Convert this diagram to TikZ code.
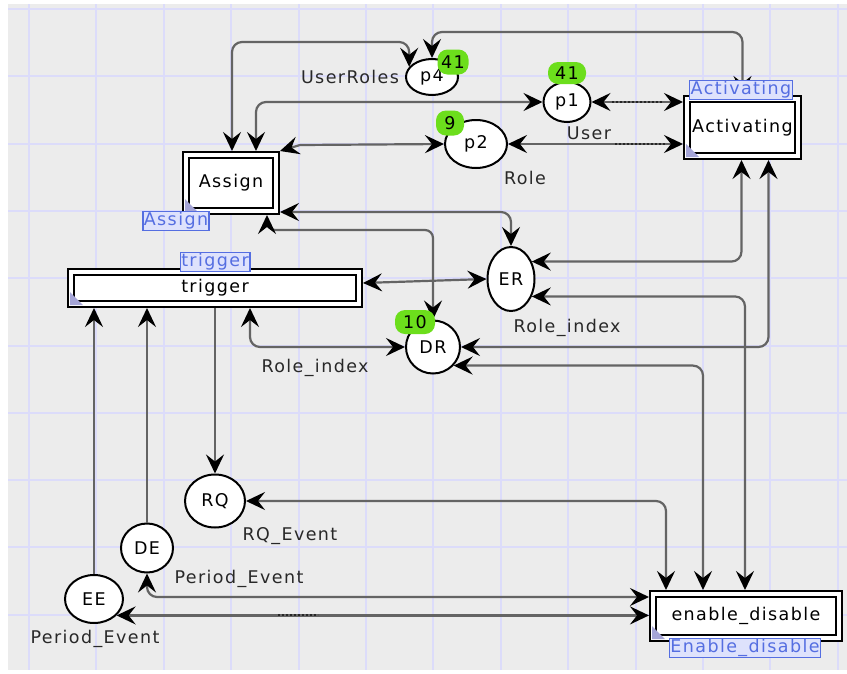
\documentclass[tikz,border=0pt]{standalone}
\usepackage{fontspec}
\setmainfont{DejaVu Sans}[LetterSpace=8]
\usetikzlibrary{shapes.geometric,arrows.meta,calc}

\definecolor{canvas}{RGB}{236,236,236}
\definecolor{gridline}{RGB}{220,220,250}
\definecolor{arcgray}{RGB}{100,100,100}
\definecolor{tokengreen}{RGB}{108,222,28}
\definecolor{tagblue}{RGB}{85,110,225}
\definecolor{tagfill}{RGB}{222,226,252}
\definecolor{cornermark}{RGB}{165,165,215}
\definecolor{inscrtext}{RGB}{40,40,40}

\begin{document}
\begin{tikzpicture}[x=1pt,y=-1pt,
  font=\fontsize{17.5}{19}\selectfont,
  >={Stealth[length=19pt,width=18pt,inset=7pt,color=black]},
  place/.style={ellipse, draw=black, line width=2pt, fill=white, inner sep=0pt},
  trans/.style={rectangle, draw=black, line width=2pt, double=white,
    double distance=4pt, fill=white, inner sep=0pt, outer sep=4pt},
  tag/.style={rectangle, draw=tagblue, line width=1.5pt, fill=tagfill,
    text=tagblue, inner sep=1pt, minimum height=19pt},
  token/.style={rectangle, rounded corners=10pt, fill=tokengreen,
    text=black, inner sep=2pt},
  inscr/.style={text=inscrtext, inner sep=0pt},
  arc/.style={draw=arcgray, line width=2.2pt, rounded corners=10pt},
  dotmark/.style={draw=black!85, line width=1.6pt, dash pattern=on 2pt off 2pt},
  gridstroke/.style={draw=gridline, line width=2pt}]

% page and canvas
\useasboundingbox (0,0) rectangle (847,673);
\fill[white] (0,0) rectangle (847,673);
\fill[canvas] (8,4) rectangle (847,670);
\foreach \i in {0,...,12}
  \draw[gridstroke] ({29+67.4*\i},4) -- ({29+67.4*\i},670);
\foreach \j in {0,...,9}
  \draw[gridstroke] (8,{9+67.3*\j}) -- (847,{9+67.3*\j});

% transitions
\node[trans, minimum width=90pt, minimum height=56pt] (Assign) at (231,183) {Assign};
\node[trans, minimum width=111pt, minimum height=57pt] (Activating) at (742.5,127.5) {Activating};
\node[trans, minimum width=288pt, minimum height=32pt] (trigger) at (215,288) {trigger};
\node[trans, minimum width=186pt, minimum height=44pt] (ED) at (746,616) {enable\_disable};

% corner marks of the transitions
\foreach \t in {Assign,Activating,trigger,ED}
  \fill[cornermark] ($(\t.south west)+(3pt,3pt)$) -- ++(13pt,0pt) -- ++(-13pt,13pt) -- cycle;

% places
\node[place, minimum width=52pt, minimum height=36pt] (p4) at (432,77) {p4};
\node[place, minimum width=47pt, minimum height=40pt] (p1) at (567,102) {p1};
\node[place, minimum width=62pt, minimum height=48pt] (p2) at (476,144) {p2};
\node[place, minimum width=47pt, minimum height=64pt] (ER) at (511,279) {ER};
\node[place, minimum width=54pt, minimum height=53pt] (DR) at (433,347) {DR};
\node[place, minimum width=60pt, minimum height=53pt] (RQ) at (215,501) {RQ};
\node[place, minimum width=52pt, minimum height=49pt] (DE) at (147,548) {DE};
\node[place, minimum width=58pt, minimum height=48pt] (EE) at (94,599) {EE};

% arcs
\draw[arc,<->] ([xshift=1pt]Assign.north) |- (p4.156 |- 0,42) -- (p4.156);
\draw[arc,<->] (p4.north) |- (Activating.north |- 0,32) -- (Activating.north);
\draw[arc,<->] ([xshift=25pt]Assign.north) |- (p1.west);
\draw[arc,<->] (p1.east) -- (Activating.west |- p1.east);
\draw[arc,<->,sharp corners] (p2.west) -- (300,145) -- (Assign.north east);
\draw[arc,<->] (p2.east) -- (Activating.west |- p2.east);
\draw[arc,<->] (Assign.east |- 0,212) -| (ER.north);
\draw[arc,<->,rounded corners=8pt] ([xshift=36pt]Assign.south) -- ++(0,15) -| (DR.north);
\draw[arc,<->] ([yshift=5pt]trigger.east) -- (ER.west);
\draw[arc,<->] ([xshift=35pt]trigger.south) |- (DR.west);
\draw[arc,->] (trigger.south) -- (RQ.north);
\draw[arc,->] (DE.north) -- (DE.north |- trigger.south);
\draw[arc,->] (EE.north) -- (EE.north |- trigger.south);
\draw[arc,<->] (RQ.east) -| ([xshift=-80pt]ED.north);
\draw[arc,<->] (DR.-42) -| ([xshift=-43pt]ED.north);
\draw[arc,<->] (ER.-40) -| ([xshift=-1pt]ED.north);
\draw[arc,<->] (ER.40) -| ([xshift=-1pt]Activating.south);
\draw[arc,<->] (DR.east) -| ([xshift=26pt]Activating.south);
\draw[arc,<->] (DE.south) |- ([yshift=19pt]ED.west);
\draw[arc,<->] (EE.-36) -- (ED.west |- EE.-36);

% dotted stretches on three arcs
\draw[dotmark] (612,102) -- (663,102);
\draw[dotmark] (615,144) -- (665,144);
\draw[dotmark] (278,615) -- (318,615);

% tokens
\node[token, minimum width=31pt, minimum height=25pt] (t4) at (453,62) {41};
\node[token, minimum width=38pt, minimum height=22pt] (t1) at (567,73) {41};
\node[token, minimum width=28pt, minimum height=25pt] (t2) at (450,123) {9};
\node[token, minimum width=40pt, minimum height=24pt] (tDR) at (415,322) {10};

% inscriptions
\node[inscr] (lUR) at (350,77) {UserRoles};
\node[inscr] (lUser) at (589,133) {User};
\node[inscr] (lRole) at (525,178) {Role};
\node[inscr] (lER) at (567,328) {Role\_index};
\node[inscr] (lDR) at (315,368) {Role\_index};
\node[inscr] (lRQ) at (290,536) {RQ\_Event};
\node[inscr] (lDE) at (239,579) {Period\_Event};
\node[inscr] (lEE) at (95,639) {Period\_Event};

% page tags of the transitions
\node[tag] (tagAssign) at (176,221) {Assign};
\node[tag] (tagTrigger) at (215,262) {trigger};
\node[tag] (tagAct) at (741,90) {Activating};
\node[tag] (tagED) at (745,648) {Enable\_disable};
\end{tikzpicture}
\end{document}
